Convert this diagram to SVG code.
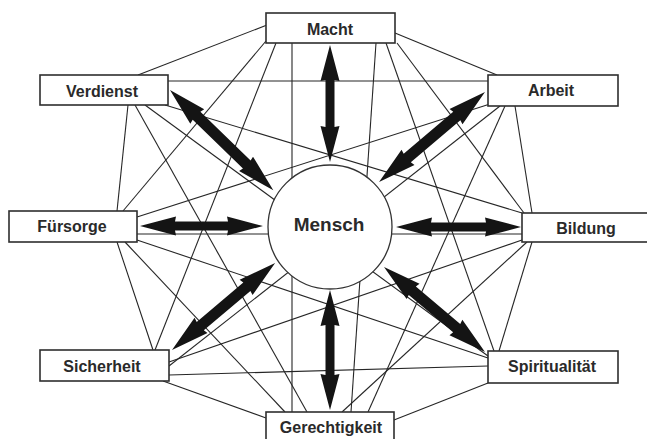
<svg xmlns="http://www.w3.org/2000/svg" width="647" height="439" viewBox="0 0 647 439">
<style>
.bg{fill:#ffffff}
.ln{stroke:#262626;stroke-width:1.1;fill:none}
.box{fill:#ffffff;stroke:#2e2e2e;stroke-width:1.6}
.lbl{font-family:"Liberation Sans",Arial,sans-serif;font-weight:bold;font-size:16px;fill:#2a2a2a;text-anchor:middle}
.big{font-size:19px}
.arw{fill:#141414}
.hub{fill:#ffffff;stroke:#333333;stroke-width:1.3}
</style>
<rect class="bg" x="0" y="0" width="647" height="439"/>
<g id="connectors">
  <line class="ln" x1="267" y1="25" x2="138" y2="75"/>
  <line class="ln" x1="395" y1="33" x2="497" y2="75"/>
  <line class="ln" x1="128" y1="105" x2="117" y2="211"/>
  <line class="ln" x1="515" y1="106" x2="532" y2="213"/>
  <line class="ln" x1="117" y1="242" x2="153" y2="350"/>
  <line class="ln" x1="532" y1="242" x2="499" y2="351"/>
  <line class="ln" x1="163" y1="381" x2="266" y2="418"/>
  <line class="ln" x1="488" y1="383" x2="394" y2="420"/>
  <line class="ln" x1="266" y1="41" x2="123" y2="211"/>
  <line class="ln" x1="397" y1="43" x2="524" y2="213"/>
  <line class="ln" x1="168" y1="81" x2="488" y2="81"/>
  <line class="ln" x1="125" y1="242" x2="285" y2="412"/>
  <line class="ln" x1="527" y1="242" x2="342" y2="412"/>
  <line class="ln" x1="169" y1="375" x2="488" y2="366"/>
  <line class="ln" x1="276" y1="43" x2="155" y2="350"/>
  <line class="ln" x1="386" y1="43" x2="494" y2="351"/>
  <line class="ln" x1="165" y1="105" x2="522" y2="213"/>
  <line class="ln" x1="490" y1="104" x2="137" y2="217"/>
  <line class="ln" x1="135" y1="105" x2="307" y2="412"/>
  <line class="ln" x1="505" y1="106" x2="368" y2="412"/>
  <line class="ln" x1="137" y1="240" x2="488" y2="358"/>
  <line class="ln" x1="522" y1="240" x2="169" y2="362"/>
  <line class="ln" x1="292" y1="43" x2="292" y2="412"/>
  <line class="ln" x1="376" y1="43" x2="351" y2="412"/>
  <line class="ln" x1="145" y1="105" x2="488" y2="356"/>
  <line class="ln" x1="500" y1="106" x2="169" y2="366"/>
  <line class="ln" x1="137" y1="234" x2="522" y2="234"/>
</g>
<g id="mensch">
  <circle class="hub" cx="330" cy="227" r="62"/>
  <text class="lbl big" x="329" y="231">Mensch</text>
</g>
<g id="arrows">
  <g transform="translate(330,45) rotate(90)"><path class="arw" d="M0,0 L36,-9.5 L35,-4.5 L82,-4.5 L81,-9.5 L117,0 L81,9.5 L82,4.5 L35,4.5 L36,9.5 Z"/></g>
  <g transform="translate(330,290) rotate(90)"><path class="arw" d="M0,0 L36,-9.5 L35,-4.5 L85,-4.5 L84,-9.5 L120,0 L84,9.5 L85,4.5 L35,4.5 L36,9.5 Z"/></g>
  <g transform="translate(140,226)"><path class="arw" d="M0,0 L36,-9.5 L35,-4.5 L88,-4.5 L87,-9.5 L123,0 L87,9.5 L88,4.5 L35,4.5 L36,9.5 Z"/></g>
  <g transform="translate(396,227)"><path class="arw" d="M0,0 L36,-9.5 L35,-4.5 L90,-4.5 L89,-9.5 L125,0 L89,9.5 L90,4.5 L35,4.5 L36,9.5 Z"/></g>
  <g transform="translate(170,90) rotate(44.15)"><path class="arw" d="M0,0 L38,-10 L37,-5.5 L107,-5.5 L106,-10 L144,0 L106,10 L107,5.5 L37,5.5 L38,10 Z"/></g>
  <g transform="translate(485,92) rotate(139.66)"><path class="arw" d="M0,0 L38,-10 L37,-5.5 L102,-5.5 L101,-10 L139,0 L101,10 L102,5.5 L37,5.5 L38,10 Z"/></g>
  <g transform="translate(172,350) rotate(-40.19)"><path class="arw" d="M0,0 L38,-10 L37,-5.5 L98,-5.5 L97,-10 L135,0 L97,10 L98,5.5 L37,5.5 L38,10 Z"/></g>
  <g transform="translate(384,267) rotate(40.08)"><path class="arw" d="M0,0 L38,-10 L37,-5.5 L95,-5.5 L94,-10 L132,0 L94,10 L95,5.5 L37,5.5 L38,10 Z"/></g>
</g>
<g id="macht">
  <rect class="box" x="266" y="13" width="129" height="30"/>
  <text class="lbl" x="330" y="35">Macht</text>
</g>
<g id="verdienst">
  <rect class="box" x="40" y="75" width="128" height="30"/>
  <text class="lbl" x="102" y="97">Verdienst</text>
</g>
<g id="arbeit">
  <rect class="box" x="488" y="75" width="130" height="31"/>
  <text class="lbl" x="551" y="96">Arbeit</text>
</g>
<g id="fuersorge">
  <rect class="box" x="9" y="211" width="128" height="31"/>
  <text class="lbl" x="72" y="232">Fürsorge</text>
</g>
<g id="bildung">
  <rect class="box" x="522" y="213" width="130" height="29"/>
  <text class="lbl" x="586" y="234">Bildung</text>
</g>
<g id="sicherheit">
  <rect class="box" x="40" y="350" width="129" height="31"/>
  <text class="lbl" x="102" y="372">Sicherheit</text>
</g>
<g id="spiritualitaet">
  <rect class="box" x="488" y="351" width="130" height="32"/>
  <text class="lbl" x="552" y="372">Spiritualität</text>
</g>
<g id="gerechtigkeit">
  <rect class="box" x="266" y="412" width="128" height="40"/>
  <text class="lbl" x="331" y="433">Gerechtigkeit</text>
</g>
</svg>
